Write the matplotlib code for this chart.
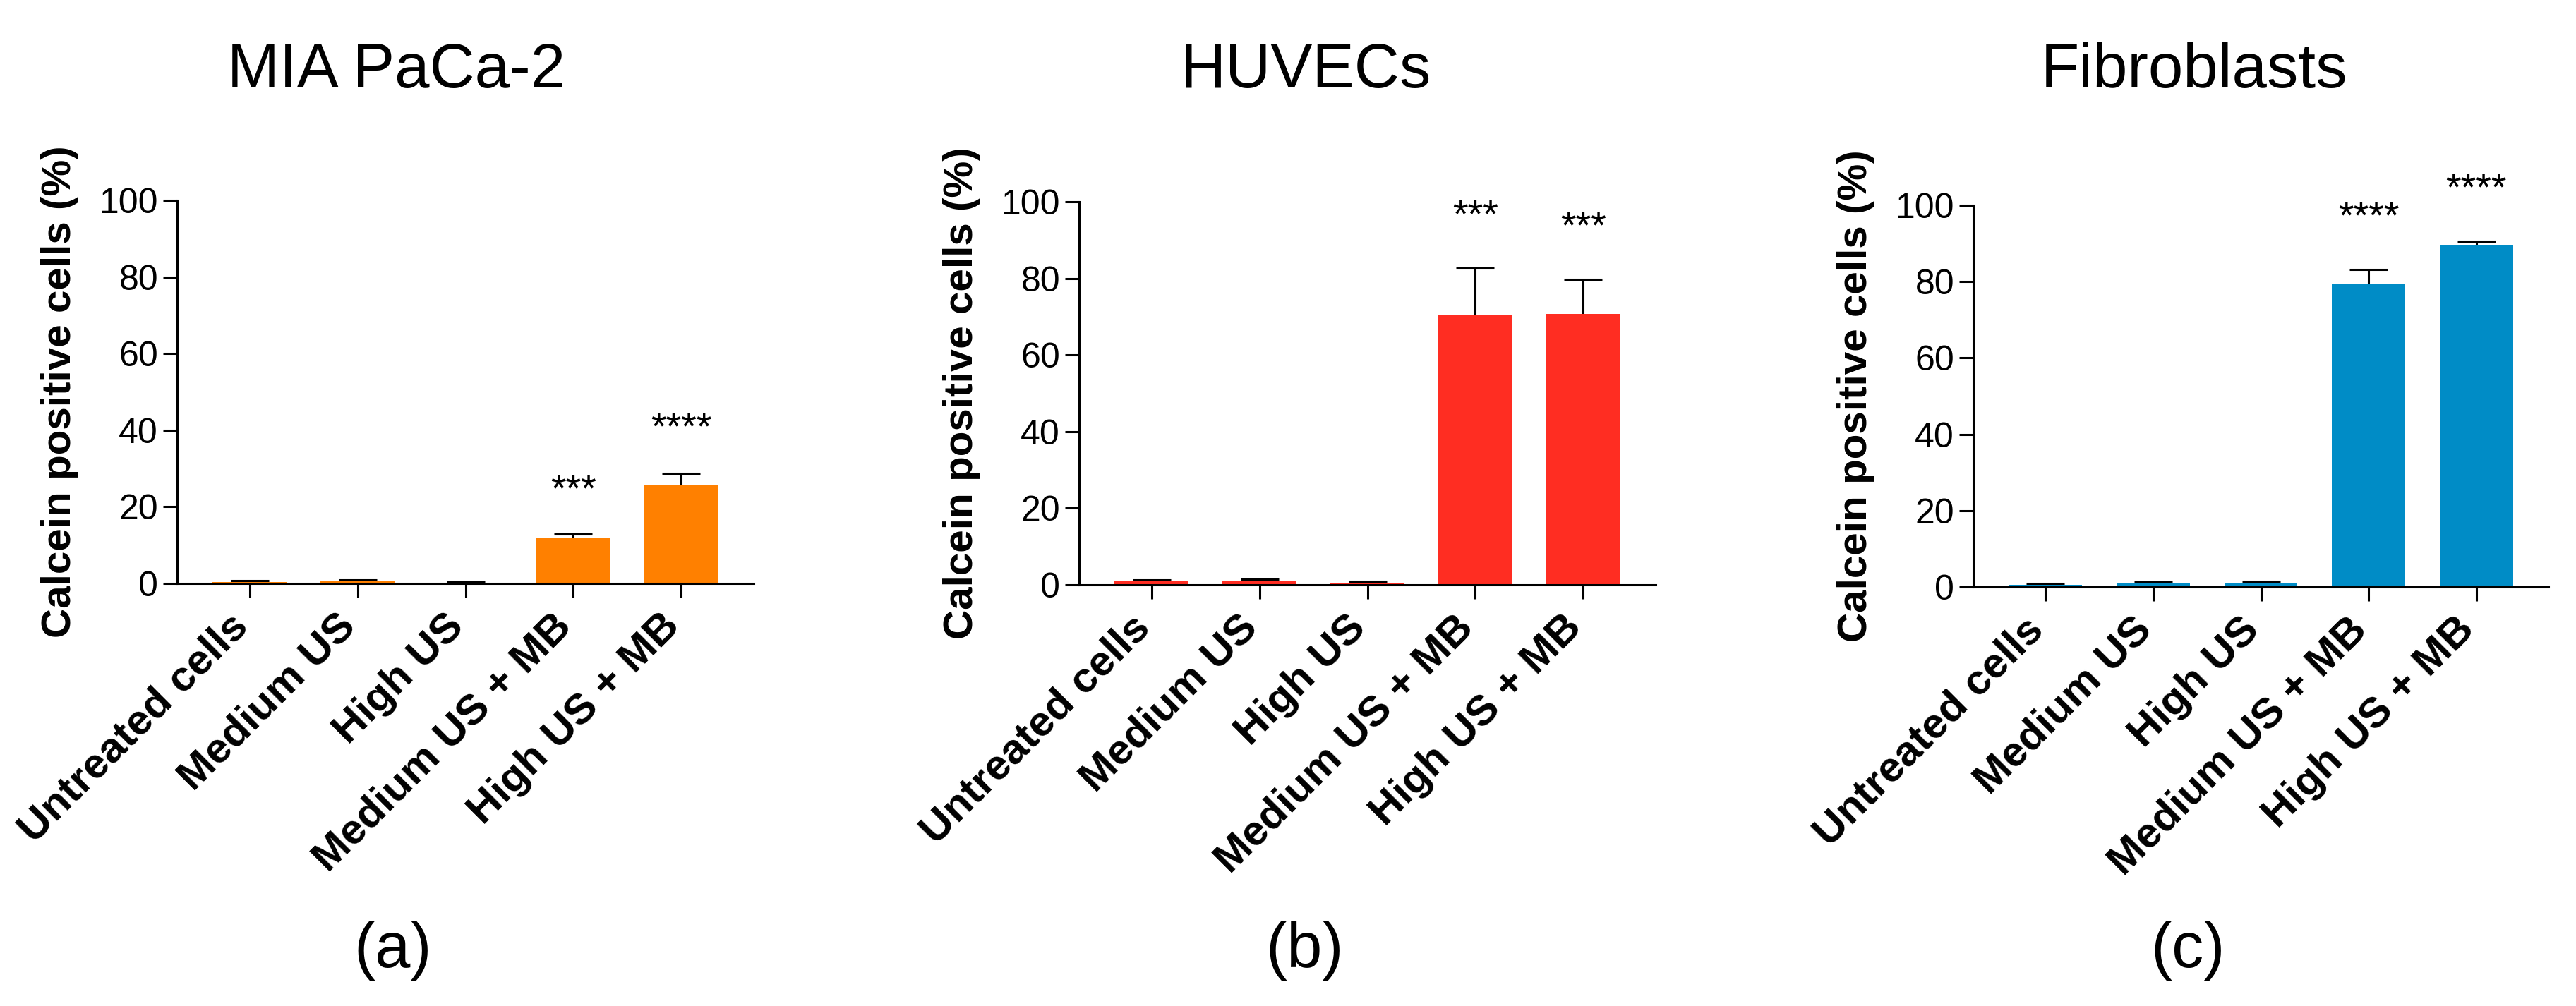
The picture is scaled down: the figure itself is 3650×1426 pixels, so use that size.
import numpy as np
from matplotlib import pyplot as plt
from matplotlib import transforms

plt.rcParams['font.family'] = ['Liberation Sans', 'DejaVu Sans']

categories = ["Untreated cells", "Medium US", "High US", "Medium US + MB", "High US + MB"]

# MIA PaCa-2
mia_means = [0.4, 0.6, 0.1, 11.9, 25.8]
mia_errs = [0.3, 0.3, 0.2, 1.0, 3.0]
mia_stars = ["", "", "", "***", "****"]
mia_star_y = [0, 0, 0, 24.1, 40.3]

# HUVECs
huv_means = [1.0, 1.1, 0.6, 70.6, 70.7]
huv_errs = [0.3, 0.3, 0.3, 12.0, 9.0]
huv_stars = ["", "", "", "***", "***"]
huv_star_y = [0, 0, 0, 96.0, 93.1]

# Fibroblasts
fib_means = [0.6, 1.0, 1.0, 79.3, 89.6]
fib_errs = [0.3, 0.3, 0.5, 3.9, 1.0]
fib_stars = ["", "", "", "****", "****"]
fib_star_y = [0, 0, 0, 96.6, 103.9]

titles = ["MIA PaCa-2", "HUVECs", "Fibroblasts"]
panel_labels = ["(a)", "(b)", "(c)"]
colors = ["#FF8000", "#FF2D22", "#008CC6"]

W, H = 3650, 1426
fig = plt.figure(figsize=(W / 100, H / 100), dpi=100)

# axes boxes in pixels: left, right, bottom, top
boxes = [(251, 1068, 827, 284), (1529, 2346, 829, 286), (2796, 3611, 832, 291)]
title_x = [562, 1850, 3109]
label_x = [557, 1849, 3100]

panels = [(mia_means, mia_errs, mia_stars, mia_star_y),
          (huv_means, huv_errs, huv_stars, huv_star_y),
          (fib_means, fib_errs, fib_stars, fib_star_y)]

shift = transforms.ScaledTranslation(7 / 100, 0, fig.dpi_scale_trans)

for i, (means, errs, stars, star_y) in enumerate(panels):
    l, r, b, t = boxes[i]
    ax = fig.add_axes([l / W, 1 - b / H, (r - l) / W, (b - t) / H])
    x = np.arange(len(categories))
    # error bars sit behind the bars so only the upper half shows
    ax.errorbar(x, means, yerr=errs, fmt='none', ecolor='black', elinewidth=2.2,
                capsize=19.5, capthick=2.2, zorder=1)
    ax.bar(x, means, width=0.68, color=colors[i], zorder=2)
    for xi, s, sy in zip(x, stars, star_y):
        if s:
            ax.text(xi, sy, s, ha='center', va='center', fontsize=40, clip_on=False)

    ax.set_xlim(-0.67, 4.67)
    ax.set_ylim(0, 100)
    ax.set_yticks([0, 20, 40, 60, 80, 100])
    ax.set_xticks(x)
    ax.set_xticklabels(categories, rotation=45, ha='right', va='baseline',
                       rotation_mode='anchor', fontsize=43.5, fontweight='bold')
    for lab in ax.get_xticklabels():
        lab.set_transform(lab.get_transform() + shift)
    ax.tick_params(axis='y', labelsize=36, length=14.4, width=2.2, pad=5)
    ax.tick_params(axis='x', length=14.4, width=2.2, pad=31)
    for sp in ['top', 'right']:
        ax.spines[sp].set_visible(False)
    for sp in ['left', 'bottom']:
        ax.spines[sp].set_linewidth(2.2)

    fig.text((l - 166) / W, 1 - (b + t) / 2 / H, "Calcein positive cells (%)",
             rotation=90, ha='center', va='center', fontsize=42, fontweight='bold')
    fig.text(title_x[i] / W, 1 - 124 / H, titles[i], ha='center', va='baseline', fontsize=64)
    fig.text(label_x[i] / W, 1 - 1348 / H, panel_labels[i], ha='center', va='center', fontsize=65)

fig.savefig("out.png", dpi=100)
